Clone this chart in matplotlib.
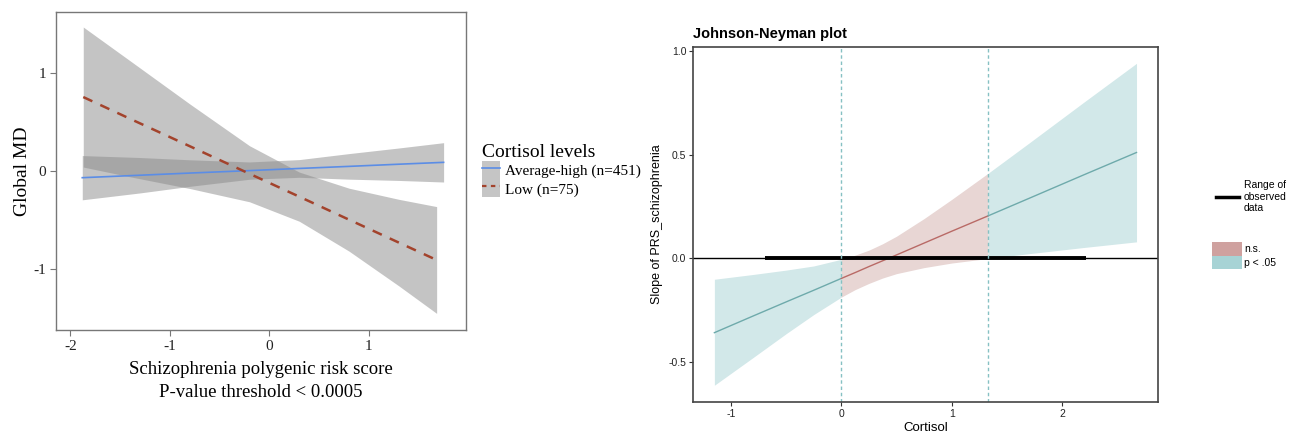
"""Two-panel figure: simple slopes by cortisol group (left) and Johnson-Neyman plot (right)."""
import matplotlib
matplotlib.use("Agg")
import matplotlib.pyplot as plt
from matplotlib.patches import Patch
from matplotlib.lines import Line2D
import numpy as np

# ---- left panel: fitted lines with confidence bands ----
x_ah = [-1.88, -1.3, -0.8, -0.2, 0.3, 0.8, 1.3, 1.75]
fit_ah = [-0.068, -0.043, -0.021, 0.004, 0.026, 0.047, 0.069, 0.088]
lo_ah = [-0.293, -0.223, -0.156, -0.084, -0.064, -0.083, -0.096, -0.112]
hi_ah = [0.157, 0.137, 0.114, 0.092, 0.116, 0.177, 0.234, 0.288]

x_low = [-1.87, -1.4, -0.8, -0.2, 0.3, 0.8, 1.3, 1.68]
fit_low = [0.752, 0.531, 0.252, -0.028, -0.261, -0.495, -0.728, -0.905]
lo_low = [0.040, -0.059, -0.178, -0.313, -0.511, -0.815, -1.168, -1.448]
hi_low = [1.464, 1.121, 0.682, 0.257, -0.011, -0.175, -0.288, -0.362]

group_labels = ["Average-high (n=451)", "Low (n=75)"]

# ---- right panel: Johnson-Neyman slope of PRS across cortisol ----
jn_x = [-1.15, -0.8, -0.5, -0.25, 0.0, 0.125, 0.25, 0.375, 0.5, 0.75, 1.0, 1.33, 1.7, 2.2, 2.675]
jn_fit = [-0.357, -0.277, -0.209, -0.153, -0.096, -0.068, -0.039, -0.011, 0.017, 0.074, 0.131, 0.205, 0.289, 0.403, 0.510]
jn_lo = [-0.610, -0.477, -0.362, -0.270, -0.186, -0.150, -0.120, -0.094, -0.073, -0.044, -0.022, 0.0, 0.023, 0.053, 0.080]
jn_hi = [-0.100, -0.077, -0.056, -0.036, -0.004, 0.016, 0.040, 0.071, 0.107, 0.192, 0.284, 0.410, 0.555, 0.753, 0.939]
jn_bounds = [0.0, 1.33]
observed_range = [-0.69, 2.22]

SERIF = ["Liberation Serif", "DejaVu Serif"]
SANS = ["Liberation Sans", "DejaVu Sans"]

fig = plt.figure(figsize=(12.99, 4.33), dpi=100)
W, H = 1299, 433

# ================= left =================
ax = fig.add_axes([56 / W, (H - 330) / H, 410 / W, 318 / H])
ax.fill_between(x_ah, lo_ah, hi_ah, color="#8a8a8a", alpha=0.5, lw=0)
ax.fill_between(x_low, lo_low, hi_low, color="#8a8a8a", alpha=0.5, lw=0)
ax.plot(x_ah, fit_ah, color="#5b8de6", lw=1.2)
ax.plot(x_low, fit_low, color="#a3432c", lw=1.8, dashes=(4, 3.5))
ax.set_xlim(-2.144, 1.975)
ax.set_ylim(-1.617, 1.617)
ax.set_xticks([-2, -1, 0, 1])
ax.set_yticks([-1, 0, 1])
ax.set_xticklabels(["-2", "-1", "0", "1"])
ax.set_yticklabels(["-1", "0", "1"])
for lab in ax.get_xticklabels() + ax.get_yticklabels():
    lab.set_family(SERIF)
    lab.set_fontsize(11)
    lab.set_color("#222222")
ax.tick_params(length=4, width=0.8, color="#777777", pad=3)
for s in ax.spines.values():
    s.set_color("#777777")
    s.set_linewidth(1.0)
ax.set_xlabel("Schizophrenia polygenic risk score\nP-value threshold < 0.0005",
              family=SERIF, fontsize=13.5, linespacing=1.45, labelpad=6)
ax.set_ylabel("Global MD", family=SERIF, fontsize=14, labelpad=2)

handles = [
    (Patch(facecolor="#c5c5c5", edgecolor="none"), Line2D([], [], color="#5b8de6", lw=1.2)),
    (Patch(facecolor="#c5c5c5", edgecolor="none"), Line2D([], [], color="#a3432c", lw=1.6, dashes=(2, 2))),
]
leg = fig.legend(handles, group_labels, title="Cortisol levels",
                 loc="upper left", bbox_to_anchor=(476 / W, 1 - 138 / H),
                 frameon=False, prop={"family": SERIF, "size": 11},
                 handlelength=1.2, handleheight=1.45, handletextpad=0.3,
                 labelspacing=0.0, borderaxespad=0)
leg.get_title().set_family(SERIF)
leg.get_title().set_fontsize(14)
leg._legend_box.align = "left"

# ================= right =================
teal_fill, red_fill = "#d2e8e9", "#e8d6d4"
teal_line, red_line = "#6eaaab", "#b96a66"
ax2 = fig.add_axes([693.3 / W, (H - 402.3) / H, 464.4 / W, 355.6 / H])
jx = np.array(jn_x)
left = jx <= jn_bounds[0]
mid = (jx >= jn_bounds[0]) & (jx <= jn_bounds[1])
right = jx >= jn_bounds[1]
jf, jl, jh = np.array(jn_fit), np.array(jn_lo), np.array(jn_hi)
for m, fc, lc in [(left, teal_fill, teal_line), (mid, red_fill, red_line), (right, teal_fill, teal_line)]:
    ax2.fill_between(jx[m], jl[m], jh[m], color=fc, lw=0)
    ax2.plot(jx[m], jf[m], color=lc, lw=1.0)
ax2.axhline(0, color="black", lw=1.0)
ax2.plot(observed_range, [0, 0], color="black", lw=2.8, solid_capstyle="butt")
for b in jn_bounds:
    ax2.axvline(b, color="#86c1c3", lw=1.0, ls=(0, (2.5, 2)))
ax2.set_xlim(-1.341, 2.867)
ax2.set_ylim(-0.692, 1.019)
ax2.set_xticks([-1, 0, 1, 2])
ax2.set_yticks([-0.5, 0.0, 0.5, 1.0])
ax2.set_xticklabels(["-1", "0", "1", "2"])
ax2.set_yticklabels(["-0.5", "0.0", "0.5", "1.0"])
for lab in ax2.get_xticklabels() + ax2.get_yticklabels():
    lab.set_family(SANS)
    lab.set_fontsize(7.5)
    lab.set_color("#222222")
ax2.tick_params(length=3, width=0.8, color="#333333", pad=2)
for s in ax2.spines.values():
    s.set_color("#444444")
    s.set_linewidth(1.2)
ax2.set_xlabel("Cortisol", family=SANS, fontsize=9.5, labelpad=2)
ax2.set_ylabel("Slope of PRS_schizophrenia", family=SANS, fontsize=9, labelpad=4)
ax2.set_title("Johnson-Neyman plot", family=SANS, fontsize=10.5, fontweight="bold",
              loc="left", pad=6)

fig.legend([Line2D([], [], color="black", lw=2.5)], ["Range of\nobserved\ndata"],
           loc="upper left", bbox_to_anchor=(1212 / W, 1 - 176 / H), frameon=False,
           prop={"family": SANS, "size": 7.5}, handlelength=2.2, handletextpad=0.45,
           borderaxespad=0)
fig.legend([Patch(facecolor="#cfa19f"), Patch(facecolor="#a7d3d5")], ["n.s.", "p < .05"],
           loc="upper left", bbox_to_anchor=(1208 / W, 1 - 238 / H), frameon=False,
           prop={"family": SANS, "size": 7.5}, handlelength=2.9, handleheight=1.6,
           handletextpad=0.2, labelspacing=0.05, borderaxespad=0)

fig.savefig("out.png", dpi=100)
